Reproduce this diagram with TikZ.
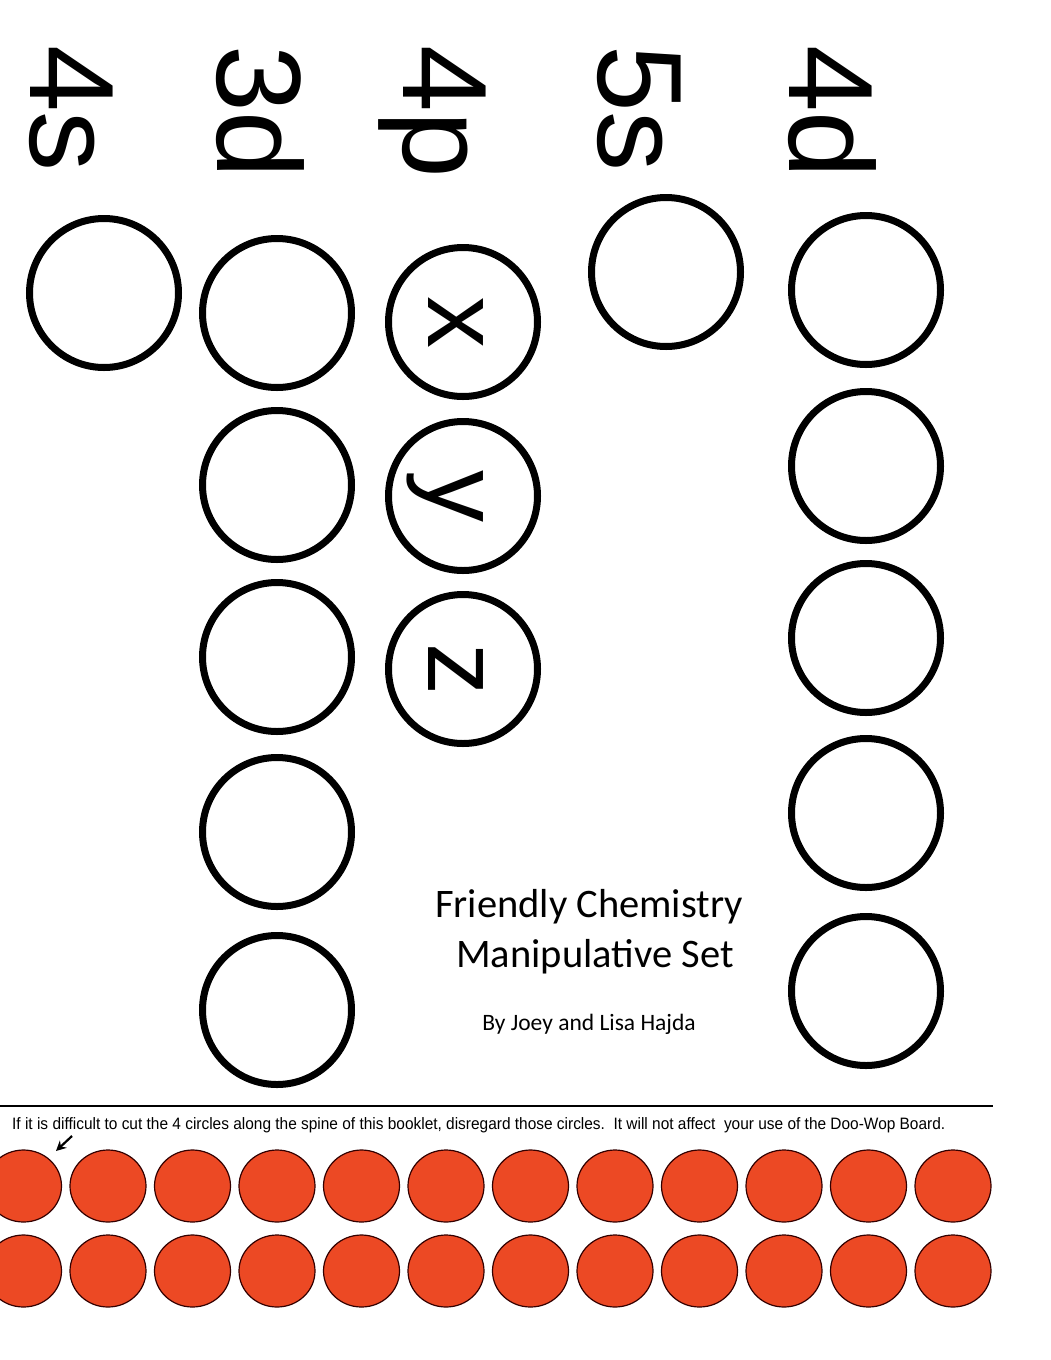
\documentclass[tikz,border=0pt]{standalone}
\usepackage{fontspec}
\usetikzlibrary{shapes.geometric,arrows.meta}
\setmainfont{Liberation Sans}
\newfontfamily\calib{Carlito}
\definecolor{dotred}{RGB}{236,73,36}
\begin{document}
\begin{tikzpicture}[x=1pt,y=-1pt,
  ring/.style={circle,draw=black,line width=7pt,minimum size=149pt,inner sep=0pt},
  bigl/.style={rotate=-90,anchor=base west,inner sep=0pt,font=\fontsize{120}{120}\selectfont},
  axl/.style={rotate=-90,anchor=base,inner sep=0pt,font=\fontsize{104}{104}\selectfont},
  dot/.style={ellipse,draw=black!80!red,line width=1.2pt,fill=dotred,minimum width=76pt,minimum height=72pt,inner sep=0pt},
  ttl/.style={inner sep=0pt,anchor=base,font=\calib\fontsize{40.5}{40.5}\selectfont}]
\useasboundingbox (0,0) rectangle (1051,1360);
% labels
\node[bigl] (l4s) at (30,45) {4s};
\node[bigl] (l3d) at (217,45) {3d};
\node[bigl] (l4p) at (403,45) {4p};
\node[bigl] (l5s) at (598,45) {5s};
\node[bigl] (l4d) at (789,45) {4d};
% 4s
\node[ring] (s4) at (104,293) {};
% 3d
\foreach \y [count=\i] in {313,485,657,832,1010} \node[ring] (d3\i) at (277,\y) {};
% 4p
\node[ring] (px) at (463,322) {};
\node[ring] (py) at (463,496) {};
\node[ring] (pz) at (463,669) {};
\node[axl] (tx) at (428,322) {x};
\node[axl] (ty) at (428,496) {y};
\node[axl] (tz) at (428,669) {z};
% 5s
\node[ring] (s5) at (666,272) {};
% 4d
\foreach \y [count=\i] in {290,466,638,813,991} \node[ring] (d4\i) at (866,\y) {};
% title
\node[ttl] (t1) at (589,917) {Friendly Chemistry};
\node[ttl] (t2) at (595,967) {Manipulative Set};
\node[inner sep=0pt,anchor=base,font=\calib\fontsize{23.5}{23.5}\selectfont] (t3) at (589,1030) {By Joey and Lisa Hajda};
% cut line
\coordinate (cl) at (0,1106);
\coordinate (cr) at (993,1106);
\draw[line width=1.2pt] (cl) -- (cr);
\node[inner sep=0pt,anchor=base west,xscale=0.936,font=\fontsize{16.5}{16.5}\selectfont] (note) at (12,1129) {If it is difficult to cut the 4 circles along the spine of this booklet, disregard those circles.\ \ It will not affect\ \ your use of the Doo-Wop Board.};
% dots
\foreach \i in {0,...,11} {
  \node[dot] (ra\i) at (23.5+84.5*\i,1186) {};
  \node[dot] (rb\i) at (23.5+84.5*\i,1271) {};
}
\coordinate (as) at (72,1136);
\coordinate (ae) at (56,1151);
\draw[line width=2.2pt,-{Stealth[length=10pt,width=10pt]}] (as) -- (ae);
\end{tikzpicture}
\end{document}
